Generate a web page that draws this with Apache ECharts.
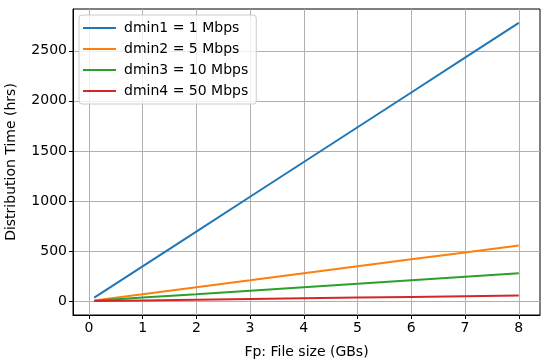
<!DOCTYPE html>
<html>
<head>
<meta charset="utf-8">
<script src="https://cdn.jsdelivr.net/npm/echarts@6/dist/echarts.min.js"></script>
<style>html,body{margin:0;padding:0;background:#fff}#c{width:550px;height:362px}</style>
</head>
<body>
<div id="c"></div>
<script>
const xValues = [0.1, 1, 2, 3, 4, 5, 6, 7, 8];
const seriesNames = ['dmin1 = 1 Mbps', 'dmin2 = 5 Mbps', 'dmin3 = 10 Mbps', 'dmin4 = 50 Mbps'];
const dmin1 = [35, 347, 694, 1042, 1389, 1736, 2083, 2431, 2778];
const dmin2 = [7, 69, 139, 208, 278, 347, 417, 486, 556];
const dmin3 = [3.5, 35, 69, 104, 139, 174, 208, 243, 278];
const dmin4 = [0.7, 7, 14, 21, 28, 35, 42, 49, 56];
const xTicks = [0, 1, 2, 3, 4, 5, 6, 7, 8];
const yTicks = [0, 500, 1000, 1500, 2000, 2500];
const colors = ['#1f77b4', '#ff7f0e', '#2ca02c', '#d62728'];

const allSeries = [dmin1, dmin2, dmin3, dmin4];
const font = 'DejaVu Sans';
const chart = echarts.init(document.getElementById('c'));
chart.setOption({
  animation: false,
  color: colors,
  grid: {left: 73, right: 10, top: 9, bottom: 47, containLabel: false, outerBoundsMode: 'none',
         show: true, borderColor: '#000', borderWidth: 1},
  legend: {
    left: 79, top: 15, orient: 'vertical',
    data: seriesNames,
    icon: 'rect', itemWidth: 33, itemHeight: 2, itemGap: 7,
    backgroundColor: 'rgba(255,255,255,0.8)', borderColor: '#cccccc', borderWidth: 1, borderRadius: 3,
    padding: [6, 8, 6, 4],
    textStyle: {fontFamily: font, fontSize: 14, color: '#000', padding: [0, 0, 0, 3]}
  },
  xAxis: {
    type: 'value', min: -0.295, max: 8.395,
    name: 'Fp: File size (GBs)', nameLocation: 'middle', nameGap: 30,
    nameTextStyle: {fontFamily: font, fontSize: 14, color: '#000'},
    axisLine: {show: true, onZero: false, lineStyle: {color: '#000', width: 1}},
    axisTick: {show: true, length: 4, customValues: xTicks, lineStyle: {color: '#000'}},
    axisLabel: {customValues: xTicks, fontFamily: font, fontSize: 14, color: '#000', margin: 6},
    splitLine: {show: true, lineStyle: {color: '#b0b0b0', width: 1}}
  },
  yAxis: {
    type: 'value', min: -139, max: 2917,
    name: 'Distribution Time (hrs)', nameLocation: 'middle', nameGap: 55,
    nameTextStyle: {fontFamily: font, fontSize: 14, color: '#000'},
    axisLine: {show: true, onZero: false, lineStyle: {color: '#000', width: 1}},
    axisTick: {show: true, length: 4, customValues: yTicks, lineStyle: {color: '#000'}},
    axisLabel: {customValues: yTicks, formatter: v => String(v), fontFamily: font, fontSize: 14, color: '#000', margin: 6},
    splitLine: {show: true, lineStyle: {color: '#b0b0b0', width: 1}}
  },
  series: allSeries.map((vals, i) => ({
    name: seriesNames[i], type: 'line', showSymbol: false, symbol: 'none',
    lineStyle: {width: 2, color: colors[i]},
    data: xValues.map((x, j) => [x, vals[j]])
  }))
});
</script>
</body>
</html>
